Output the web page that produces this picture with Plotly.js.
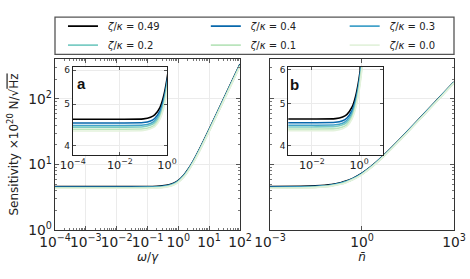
<!DOCTYPE html>
<html>
<head>
<meta charset="utf-8">
<script src="https://cdn.plot.ly/plotly-3.0.1.min.js"></script>
<style>
  html, body { margin: 0; padding: 0; background: #fff; }
  #chart { width: 470px; height: 279px; }
</style>
</head>
<body>
<div id="chart"></div>
<script>
// ζ/κ ratios, one curve per ratio
var ratios = ['0.49', '0.4', '0.3', '0.2', '0.1', '0.0'];
var colors = ['#000000', '#0868ac', '#43a2ca', '#7bccc4', '#bae4bc', '#e3f2dc'];
// legend column of each ratio (3 columns, 2 rows)
var legendCols = ['legend', 'legend2', 'legend3', 'legend', 'legend2', 'legend3'];

// panel a: sensitivity vs ω/γ
var omega = [1e-4, 1e-2, 0.1, 0.2, 0.3, 0.5, 0.7, 1, 1.5, 2, 3, 5, 10, 30, 100];
var sensOmega = [
    [4.61, 4.61, 4.62, 4.66, 4.72, 4.91, 5.19, 5.73, 6.87, 8.22, 11.19, 17.6, 34.3, 102.1, 340],
    [4.52, 4.52, 4.53, 4.57, 4.63, 4.82, 5.09, 5.63, 6.76, 8.08, 11.02, 17.35, 33.8, 100.6, 335],
    [4.46, 4.46, 4.47, 4.51, 4.57, 4.76, 5.02, 5.55, 6.66, 7.97, 10.86, 17.09, 33.3, 99.1, 330],
    [4.42, 4.42, 4.43, 4.47, 4.53, 4.71, 4.97, 5.49, 6.58, 7.86, 10.7, 16.84, 32.8, 97.6, 325],
    [4.37, 4.37, 4.38, 4.42, 4.47, 4.65, 4.91, 5.42, 6.49, 7.75, 10.55, 16.59, 32.3, 96.1, 320],
    [4.33, 4.33, 4.34, 4.38, 4.43, 4.61, 4.86, 5.35, 6.41, 7.64, 10.39, 16.33, 31.8, 94.6, 315]
];

// panel b: sensitivity vs n̄
var nbar = [1e-3, 1e-2, 0.03, 0.1, 0.2, 0.3, 0.5, 1, 2, 5, 10, 30, 100, 300, 1000];
var sensNbar = [
    [4.61, 4.65, 4.72, 4.95, 5.28, 5.58, 6.14, 7.37, 9.34, 13.65, 18.74, 31.8, 57.6, 99.6, 181.7],
    [4.52, 4.56, 4.63, 4.87, 5.19, 5.49, 6.06, 7.28, 9.24, 13.52, 18.59, 31.55, 57.2, 98.8, 180.3],
    [4.46, 4.50, 4.57, 4.81, 5.13, 5.43, 5.99, 7.20, 9.16, 13.41, 18.44, 31.30, 56.7, 98.1, 178.9],
    [4.42, 4.46, 4.53, 4.76, 5.08, 5.38, 5.94, 7.14, 9.09, 13.30, 18.29, 31.06, 56.3, 97.3, 177.5],
    [4.37, 4.41, 4.48, 4.71, 5.03, 5.33, 5.88, 7.08, 9.01, 13.19, 18.14, 30.81, 55.8, 96.5, 176.1],
    [4.33, 4.37, 4.44, 4.67, 4.98, 5.28, 5.83, 7.02, 8.93, 13.09, 17.99, 30.56, 55.4, 95.8, 174.7]
];

// inset b, it follows the same numbers as panel a
var nbarInset = omega;

var traces = [];
ratios.forEach(function (r, i) {
    var ln = { color: colors[i], width: 1.6, shape: 'spline', smoothing: 0.6 };
    traces.push({ x: omega, y: sensOmega[i], xaxis: 'x', yaxis: 'y', mode: 'lines', line: ln,
        name: '\u2002<i>ζ</i>/<i>κ</i> = ' + r, legend: legendCols[i], hoverinfo: 'skip' });
    traces.push({ x: nbar, y: sensNbar[i], xaxis: 'x2', yaxis: 'y2', mode: 'lines', line: ln,
        showlegend: false, hoverinfo: 'skip' });
    traces.push({ x: omega, y: sensOmega[i], xaxis: 'x3', yaxis: 'y3', mode: 'lines', line: ln,
        showlegend: false, hoverinfo: 'skip' });
    traces.push({ x: nbarInset, y: sensOmega[i], xaxis: 'x4', yaxis: 'y4', mode: 'lines', line: ln,
        showlegend: false, hoverinfo: 'skip' });
});

var frame = {
    type: 'log', showline: true, linecolor: '#333', linewidth: 1, mirror: 'allticks',
    ticks: 'inside', ticklen: 4, tickcolor: '#555', showgrid: true, gridcolor: '#ebebeb',
    zeroline: false, exponentformat: 'power', tickfont: { size: 11, color: '#222' }, tickangle: 0,
    automargin: false,
    labelalias: { '1': '10<sup>0</sup>', '10': '10<sup>1</sup>' }
};
function ax(extra) { return Object.assign({}, frame, extra); }
var minorTicks = { ticks: 'inside', ticklen: 2, tickcolor: '#777', showgrid: false };
var insetFont = { size: 9, color: '#222' };
function legendCol(x) {
    return { orientation: 'v', x: x, y: 1.277, xanchor: 'left', yanchor: 'top',
        font: { size: 10 }, bgcolor: 'rgba(0,0,0,0)', borderwidth: 0 };
}

var layout = {
    width: 470, height: 279,
    margin: { l: 55, r: 16, t: 46, b: 49 },
    paper_bgcolor: '#fff', plot_bgcolor: '#fff',
    font: { family: 'DejaVu Sans', size: 12, color: '#222' },
    showlegend: true,
    legend: legendCol(0.02),
    legend2: legendCol(0.378),
    legend3: legendCol(0.726),
    xaxis: ax({ domain: [0, 0.4637], anchor: 'y', range: [-4, 2], dtick: 1, minor: minorTicks,
        title: { text: '<i>ω</i>/<i>γ</i>', font: { size: 12 }, standoff: 2 } }),
    yaxis: ax({ domain: [0, 1], anchor: 'x', range: [0, 2.61], dtick: 1, minor: minorTicks,
        title: { text: 'Sensitivity ×10<sup>20</sup> N/√<span style="text-decoration:overline">Hz</span>', font: { size: 12 }, standoff: 6 } }),
    xaxis2: ax({ domain: [0.5388, 1], anchor: 'y2', range: [-3, 3], dtick: 3,
        title: { text: '<i>n\u0304</i>', font: { size: 12 }, standoff: 2 } }),
    yaxis2: ax({ domain: [0, 1], anchor: 'x2', range: [0, 2.61], dtick: 1, minor: minorTicks,
        showticklabels: false }),
    xaxis3: ax({ domain: [0.0444, 0.2807], anchor: 'y3', range: [-4, 0], dtick: 2, ticklen: 3,
        tickfont: insetFont, linecolor: '#222' }),
    yaxis3: ax({ domain: [0.4402, 0.951], anchor: 'x3', range: [0.581, 0.785], tickmode: 'array',
        tickvals: [4, 5, 6], ticktext: ['4', '5', '6'], ticklen: 3, tickfont: insetFont, linecolor: '#222' }),
    xaxis4: ax({ domain: [0.5847, 0.8213], anchor: 'y4', range: [-3, 1], dtick: 2, ticklen: 3,
        tickfont: insetFont, linecolor: '#222' }),
    yaxis4: ax({ domain: [0.4402, 0.9549], anchor: 'x4', range: [0.581, 0.785], tickmode: 'array',
        tickvals: [4, 5, 6], ticktext: ['4', '5', '6'], ticklen: 3, tickfont: insetFont, linecolor: '#222' }),
    shapes: [
        // legend frame
        { type: 'rect', xref: 'paper', yref: 'paper', x0: 0, x1: 1, y0: 1.0272, y1: 1.2446,
          line: { color: '#555', width: 1.3 }, fillcolor: 'rgba(0,0,0,0)' }
    ],
    annotations: [
        { xref: 'paper', yref: 'paper', x: 0.067, y: 0.855, xanchor: 'center', yanchor: 'middle',
          text: '<b>a</b>', showarrow: false, font: { family: 'Liberation Sans', size: 15, color: '#111' } },
        { xref: 'paper', yref: 'paper', x: 0.6015, y: 0.848, xanchor: 'center', yanchor: 'middle',
          text: '<b>b</b>', showarrow: false, font: { family: 'Liberation Sans', size: 15, color: '#111' } }
    ]
};

Plotly.newPlot('chart', traces, layout, { staticPlot: true });
</script>
</body>
</html>
